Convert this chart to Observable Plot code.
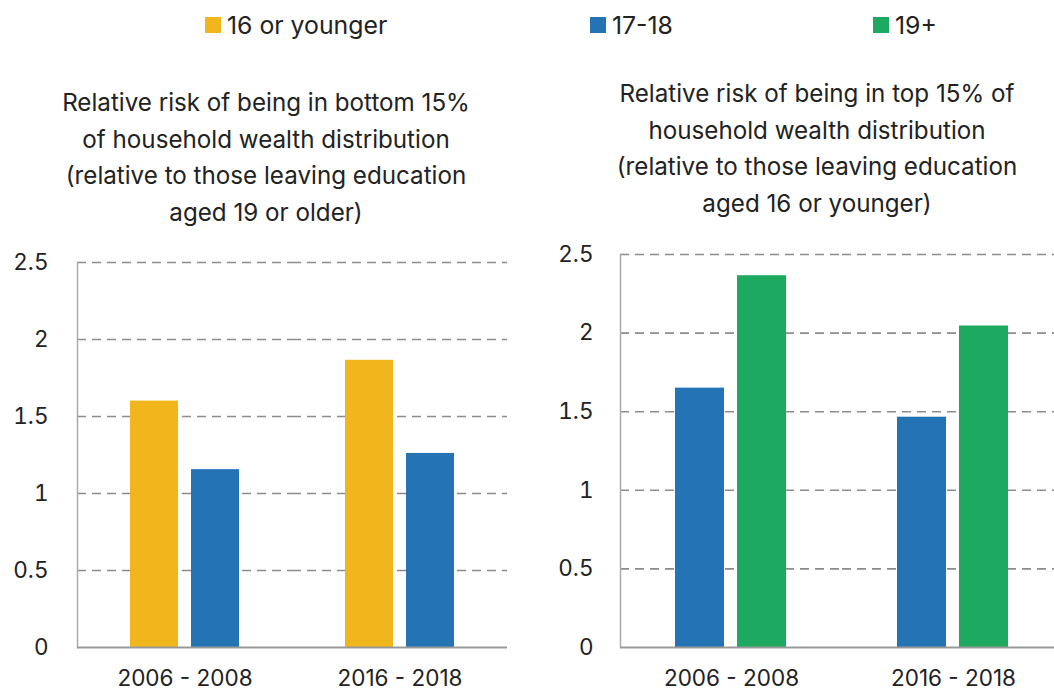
<!DOCTYPE html>
<html>
<head>
<meta charset="utf-8">
<script src="https://cdn.jsdelivr.net/npm/d3@7"></script>
<script src="https://cdn.jsdelivr.net/npm/@observablehq/plot@0.6"></script>
<style>
  html, body { margin: 0; padding: 0; background: #fff; }
  body { width: 1054px; height: 692px; overflow: hidden; position: relative; font-family: Inter, Roboto, "Noto Sans", sans-serif; color: #222; }
  .legend-item { position: absolute; top: 11px; display: flex; align-items: center; font-size: 24.8px; line-height: 28px; }
  .legend-item .sw { width: 16px; height: 16px; margin-right: 6px; }
  .title { position: absolute; width: 540px; text-align: center; font-size: 24.2px; line-height: 36.5px; }
  .panel { position: absolute; }
  .panel svg { max-width: none !important; }
</style>
</head>
<body>
<div id="legend"></div>
<div class="title" id="t1" style="left:-4px; top:85px;"></div>
<div class="title" id="t2" style="left:547px; top:76px;"></div>
<div class="panel" id="p1" style="left:0px; top:240px; width:520px;"></div>
<div class="panel" id="p2" style="left:530px; top:230px; width:544px;"></div>
<script>
// ---- data ----
const periods = ["2006 - 2008", "2016 - 2018"];
const groups = ["16 or younger", "17-18", "19+"];
const groupColors = ["#F1B61B", "#2473B5", "#1DA95F"];
const yTicks = [0, 0.5, 1, 1.5, 2, 2.5];

// Left panel: risk of being in bottom 15%
const bottomYoung = [1.6, 1.865];   // 16 or younger
const bottomMid = [1.155, 1.26];    // 17-18
// Right panel: risk of being in top 15%
const topMid = [1.65, 1.465];       // 17-18
const topOld = [2.365, 2.045];      // 19+

const title1 = ["Relative risk of being in bottom 15%", "of household wealth distribution", "(relative to those leaving education", "aged 19 or older)"];
const title2 = ["Relative risk of being in top 15% of", "household wealth distribution", "(relative to those leaving education", "aged 16 or younger)"];

// ---- legend ----
const legendX = [205, 590, 873];
const legend = document.getElementById("legend");
groups.forEach((g, i) => {
  const it = document.createElement("div");
  it.className = "legend-item";
  it.style.left = legendX[i] + "px";
  const sw = document.createElement("span");
  sw.className = "sw";
  sw.style.background = groupColors[i];
  const tx = document.createElement("span");
  tx.textContent = g;
  it.appendChild(sw); it.appendChild(tx);
  legend.appendChild(it);
});

document.getElementById("t1").innerHTML = title1.join("<br>");
document.getElementById("t2").innerHTML = title2.join("<br>");

function rows(a, ga, b, gb) {
  const out = [];
  periods.forEach((p, i) => {
    out.push({period: p, group: ga, value: a[i]});
    out.push({period: p, group: gb, value: b[i]});
  });
  return out;
}

function panel(data, inner, opts) {
  return Plot.plot({
    width: opts.width,
    height: opts.height,
    marginLeft: opts.ml,
    marginRight: opts.mr,
    marginTop: opts.mt,
    marginBottom: opts.mb,
    style: {fontFamily: "Inter, Roboto, 'Noto Sans', sans-serif", fontSize: "22.5px", color: "#222", background: "transparent", maxWidth: "none"},
    fx: {domain: periods, padding: 0, label: null, axis: "bottom", tickSize: 0, tickPadding: 23},
    x: {domain: inner, paddingInner: opts.pi, paddingOuter: opts.po, axis: null},
    y: {domain: [0, 2.5], ticks: yTicks, label: null, tickSize: 0, tickPadding: opts.tp, tickFormat: d => String(d)},
    color: {domain: groups, range: groupColors},
    marks: [
      Plot.gridY(yTicks.filter(d => d > 0), {stroke: "#8c8c8c", strokeOpacity: 1, strokeWidth: 1.6, strokeDasharray: "9,6"}),
      Plot.barY(data, {fx: "period", x: "group", y: "value", fill: "group"}),
      Plot.frame({anchor: "left", facetAnchor: "left", stroke: "#aaaaaa", strokeWidth: 1.5}),
      Plot.ruleY([0], {stroke: "#999999", strokeWidth: 2})
    ]
  });
}

document.getElementById("p1").appendChild(panel(
  rows(bottomYoung, groups[0], bottomMid, groups[1]),
  [groups[0], groups[1]],
  {width: 520, height: 452, ml: 76, mr: 13, mt: 22, mb: 45, pi: 0.21, po: 0.86, tp: 29}
));
document.getElementById("p2").appendChild(panel(
  rows(topMid, groups[1], topOld, groups[2]),
  [groups[1], groups[2]],
  {width: 544, height: 462, ml: 89, mr: 10, mt: 24, mb: 45, pi: 0.206, po: 0.88, tp: 27}
));
</script>
</body>
</html>
